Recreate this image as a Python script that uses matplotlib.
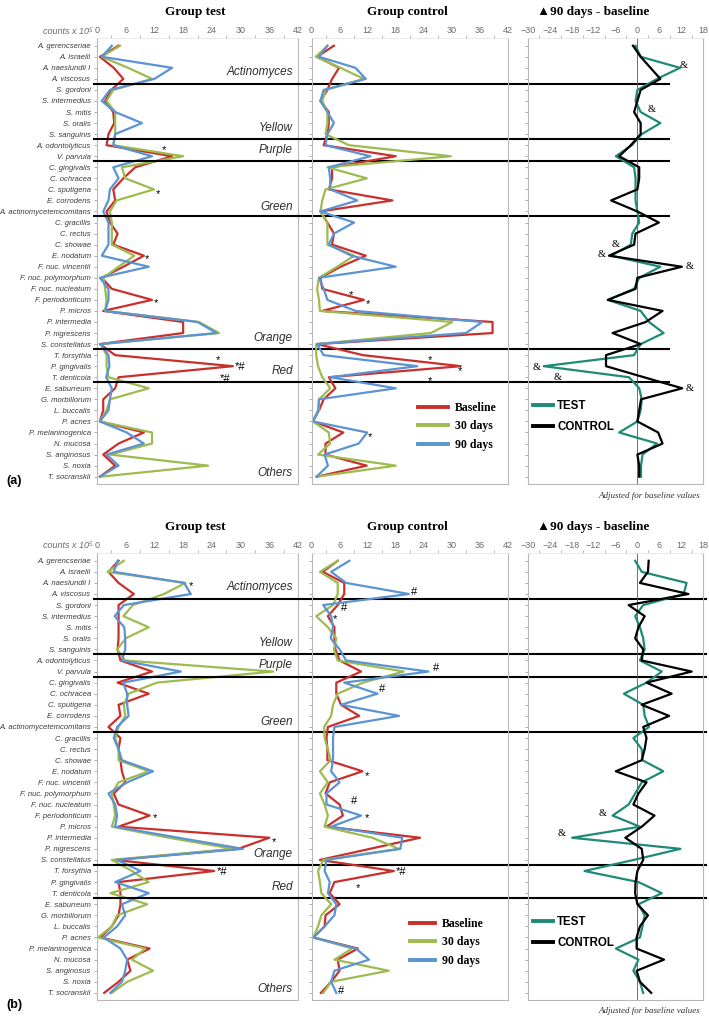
import matplotlib.pyplot as plt
from matplotlib.lines import Line2D

W, H = 709, 1016
fig = plt.figure(figsize=(W / 100, H / 100), dpi=100)

species = ['A. gerencseriae', 'A. israelii', 'A. naeslundii I', 'A. viscosus', 'S. gordoni',
           'S. intermedius', 'S. mitis', 'S. oralis', 'S. sanguinis', 'A. odontolyticus',
           'V. parvula', 'C. gingivalis', 'C. ochracea', 'C. sputigena', 'E. corrodens',
           'A. actinomycetemcomitans', 'C. gracillis', 'C. rectus', 'C. showae', 'E. nodatum',
           'F. nuc. vincentii', 'F. nuc. polymorphum', 'F. nuc. nucleatum', 'F. periodonticum', 'P. micros',
           'P. intermedia', 'P. nigrescens', 'S. constellatus', 'T. forsythia', 'P. gingivalis',
           'T. denticola', 'E. saburreum', 'G. morbillorum', 'L. buccalis', 'P. acnes',
           'P. melaninogenica', 'N. mucosa', 'S. anginosus', 'S. noxia', 'T. socranskii']
rows = list(range(len(species)))

complexes = ['Actinomyces', 'Yellow', 'Purple', 'Green', 'Orange', 'Red', 'Others']
complex_rows = [2.4, 7.4, 9.45, 14.55, 26.45, 29.45, 38.65]
separators = [3.45, 8.45, 10.45, 15.45, 27.45, 30.45]

# (a) counts x 10^5
a_test_base = [4.5, 0.6, 3.5, 5.5, 3.0, 1.7, 3.4, 3.6, 2.4, 2.0,
               15.7, 8.0, 5.5, 3.4, 3.8, 2.0, 2.7, 4.3, 3.4, 9.8,
               5.5, 1.0, 3.1, 11.5, 1.3, 18.0, 18.0, 0.6, 3.8, 28.4,
               4.5, 3.8, 1.3, 1.3, 0.6, 9.8, 4.5, 1.3, 3.8, 0.6]
a_test_30 = [4.8, 1.0, 6.5, 11.5, 3.4, 2.0, 3.8, 3.8, 3.8, 3.4,
             18.0, 5.2, 5.9, 11.9, 4.1, 2.7, 3.1, 3.1, 3.1, 7.8,
             4.5, 1.3, 1.7, 2.0, 1.7, 21.3, 25.5, 0.8, 2.0, 2.0,
             2.4, 10.8, 2.7, 2.0, 0.6, 11.5, 11.5, 2.7, 23.2, 0.8]
a_test_90 = [3.1, 1.0, 15.7, 12.0, 2.7, 1.0, 3.8, 9.4, 3.8, 3.4,
             11.5, 3.4, 4.5, 2.7, 2.4, 1.3, 2.4, 2.4, 2.4, 1.0,
             10.8, 0.6, 2.4, 2.4, 1.7, 21.0, 25.0, 0.8, 2.4, 2.6,
             1.9, 3.1, 2.7, 2.4, 0.6, 6.2, 9.8, 2.0, 4.5, 0.6]
a_ctrl_base = [4.8, 1.2, 5.9, 4.4, 3.4, 1.9, 3.7, 3.7, 3.4, 2.6,
               18.0, 4.4, 4.4, 3.7, 17.3, 1.9, 3.4, 4.8, 4.4, 11.6,
               6.2, 1.9, 2.3, 11.2, 2.3, 38.7, 38.7, 1.2, 11.0, 31.9,
               3.7, 5.1, 2.6, 1.6, 0.3, 6.8, 3.0, 3.0, 11.8, 1.1]
a_ctrl_30 = [3.4, 0.9, 6.2, 11.2, 3.0, 2.3, 3.4, 3.4, 3.0, 8.0,
             29.8, 3.4, 11.8, 3.0, 2.3, 1.9, 3.4, 3.4, 3.4, 9.1,
             5.5, 1.6, 1.2, 1.6, 1.8, 30.1, 25.5, 1.0, 1.0, 1.4,
             2.3, 4.0, 1.6, 1.6, 0.3, 3.7, 4.0, 1.4, 18.0, 1.1]
a_ctrl_90 = [3.4, 1.6, 9.4, 11.6, 2.6, 1.9, 3.4, 4.8, 3.4, 3.0,
             12.6, 3.7, 4.0, 4.0, 9.8, 1.9, 9.1, 4.8, 3.7, 8.5,
             18.0, 1.6, 2.6, 3.4, 9.4, 36.5, 33.0, 1.2, 2.6, 22.6,
             4.0, 18.0, 1.6, 1.4, 0.3, 11.9, 10.1, 2.8, 3.5, 1.1]
a_delta_test = [-0.5, 0.9, 11.7, 5.4, 0.0, -0.5, 0.9, 6.3, 1.2, -1.5,
                -5.9, -0.9, -0.5, -0.5, -0.5, 0.0, 0.5, -1.4, -1.8, -7.2,
                6.3, 0.5, -0.9, -8.1, 0.9, 3.2, 7.2, 0.9, -0.9, -25.7,
                -2.3, 0.5, 1.2, 0.9, 0.0, -5.0, 5.4, 1.4, 1.0, 1.0]
a_delta_ctrl = [-1.2, 0.9, 3.6, 6.3, 0.9, 0.0, -0.9, 0.9, 0.9, -1.8,
                -5.0, 0.5, 0.5, 0.0, -7.2, 0.0, 5.9, -0.5, -0.9, -7.8,
                12.2, 0.0, -0.5, -8.1, 6.9, 2.3, -6.8, 0.9, -8.6, -8.6,
                1.8, 12.3, 1.0, 0.5, 0.0, 5.7, 6.9, 0.0, 0.5, 0.5]

# (b)
b_test_base = [4.5, 2.4, 4.5, 7.7, 4.5, 4.5, 4.5, 4.5, 4.3, 4.9,
               11.5, 4.3, 10.8, 4.5, 4.9, 2.4, 4.9, 4.5, 4.9, 5.2,
               5.9, 3.5, 4.5, 11.0, 4.5, 36.0, 29.5, 3.8, 24.5, 4.5,
               4.9, 4.9, 4.5, 3.1, 0.7, 11.0, 6.3, 7.0, 4.5, 1.5]
b_test_30 = [5.6, 2.2, 18.5, 14.0, 7.5, 5.5, 10.8, 6.0, 4.2, 5.9,
             36.8, 12.5, 6.6, 5.6, 5.9, 4.5, 3.8, 4.5, 4.5, 10.8,
             4.5, 3.1, 3.5, 3.8, 3.1, 15.0, 28.5, 3.1, 7.3, 10.8,
             2.8, 10.5, 4.2, 3.1, 0.2, 10.1, 7.3, 11.7, 6.3, 3.1]
b_test_90 = [4.3, 3.5, 18.2, 19.6, 5.6, 3.7, 5.7, 5.9, 5.9, 5.2,
             17.5, 5.5, 6.3, 6.3, 6.6, 4.2, 3.5, 4.5, 5.2, 11.7,
             6.3, 2.4, 3.8, 4.2, 3.8, 17.0, 30.5, 4.2, 9.1, 3.8,
             10.8, 5.2, 5.9, 4.2, 1.4, 4.9, 6.3, 5.9, 5.2, 2.8]
b_ctrl_base = [5.6, 2.4, 7.0, 7.0, 5.6, 3.5, 4.9, 4.9, 5.1, 6.0,
               10.6, 5.3, 5.3, 6.3, 10.2, 3.5, 3.2, 3.4, 3.4, 10.9,
               3.9, 3.0, 6.0, 6.7, 3.2, 23.2, 12.5, 1.8, 17.6, 4.9,
               3.9, 6.0, 3.0, 2.8, 0.4, 9.9, 5.6, 6.0, 4.2, 2.0]
b_ctrl_30 = [5.6, 1.8, 5.6, 5.6, 4.6, 1.0, 3.5, 5.3, 4.8, 5.6,
             19.7, 11.0, 5.6, 4.6, 4.2, 2.7, 2.8, 3.5, 4.1, 1.8,
             3.5, 1.8, 2.8, 3.5, 2.8, 13.0, 18.7, 2.5, 1.4, 1.8,
             2.1, 4.2, 2.1, 1.4, 0.4, 8.7, 4.9, 16.5, 4.2, 2.5]
b_ctrl_90 = [8.1, 4.2, 7.4, 20.8, 2.5, 4.2, 4.6, 4.1, 6.0, 7.4,
             25.0, 7.0, 14.1, 6.3, 18.7, 4.9, 4.6, 4.6, 4.6, 4.2,
             6.0, 3.2, 3.2, 10.6, 4.2, 19.4, 19.0, 3.2, 2.8, 3.9,
             3.5, 5.3, 4.9, 2.8, 0.4, 9.5, 12.3, 4.9, 4.2, 5.3]
b_delta_test = [-0.6, 1.2, 13.5, 12.7, 1.6, -0.6, 0.7, 1.6, 2.0, 0.7,
                6.7, 2.5, -3.7, 1.6, 2.0, 3.2, -1.1, 1.2, 1.4, 7.1,
                1.2, -0.6, -2.4, -6.8, 0.7, -17.9, 11.8, -1.0, -14.5, 0.3,
                6.7, 0.3, 2.0, 1.4, 0.7, -5.9, 0.3, -1.1, 0.7, 1.6]
b_delta_ctrl = [3.1, 2.9, 0.7, 14.0, -2.4, 2.0, 0.3, -0.6, 1.6, 1.2,
                14.9, 2.5, 9.4, 1.2, 8.7, 1.6, 2.5, 2.0, 1.2, -5.9,
                2.5, 0.3, -1.1, 4.7, 1.2, -3.3, 1.2, 1.6, 0.0, -0.5,
                -0.6, 0.0, 2.9, 0.7, -0.2, -0.2, 7.3, -0.2, 0.7, 3.8]

# significance marks: (x value, row, text)
a_test_notes = [(13.9, 9.2, '*'), (12.8, 13.2, '*'), (10.5, 19.1, '*'), (12.4, 23.0, '*'),
                (25.3, 28.2, '*'), (28.8, 29.1, '*#'), (25.7, 30.2, '*#')]
a_ctrl_notes = [(8.5, 22.3, '*'), (12.1, 23.1, '*'), (25.4, 28.2, '*'), (31.8, 29.2, '*'),
                (25.4, 30.1, '*'), (12.6, 35.2, '*')]
a_delta_notes = [(12.8, 1.8, '&'), (3.8, 5.8, '&'), (-5.9, 18.0, '&'), (-9.7, 18.9, '&'),
                 (14.4, 20.0, '&'), (-27.5, 29.1, '&'), (-21.8, 30.0, '&'), (14.4, 31.0, '&')]
b_test_notes = [(19.6, 2.0, '*'), (12.1, 23.0, '*'), (37.0, 25.1, '*'), (25.1, 28.1, '*#')]
b_ctrl_notes = [(21.9, 2.8, '#'), (6.9, 4.25, '#'), (5.1, 5.0, '*'), (26.7, 9.7, '#'),
                (15.0, 11.6, '#'), (11.8, 19.2, '*'), (9.1, 21.7, '#'), (11.8, 23.0, '*'),
                (18.0, 28.1, '*#'), (9.9, 29.3, '*'), (6.4, 38.8, '#')]
b_delta_notes = [(-9.6, 22.8, '&'), (-20.8, 24.6, '&')]

RED, GREEN, BLUE = '#c9302c', '#9dbb4f', '#5b93d3'
TEAL = '#1f8a78'
GRAY = '#6a6a6a'


def add_ax(left, top, width, height):
    return fig.add_axes([left / W, 1 - (top + height) / H, width / W, height / H])


def style(ax, xlim, step, labels=False):
    ax.set_facecolor('none')
    ax.set_xlim(xlim)
    ax.set_ylim(39.65, -0.7)
    ax.xaxis.set_ticks_position('top')
    ax.set_xticks(range(xlim[0], xlim[1] + 1, step))
    ax.set_xticks([v + step / 2 for v in range(xlim[0], xlim[1], step)], minor=True)
    ax.tick_params(axis='x', which='major', length=0, pad=2.5, labelsize=6.5,
                   labelcolor=GRAY, labelfontfamily='Liberation Sans')
    ax.tick_params(axis='x', which='minor', length=2, color='#b0b0b0', width=0.6)
    ax.set_yticks(rows)
    ax.tick_params(axis='y', length=2.5, width=0.6, color='#a0a0a0', pad=2)
    if labels:
        ax.set_yticklabels(species, fontsize=5.5, style='italic', family='Liberation Sans',
                           color='#3c3c3c')
    else:
        ax.set_yticklabels([])
    ax.spines['top'].set_color('#e2e2e2')
    ax.spines['top'].set_linewidth(0.5)
    for s in ['left', 'right', 'bottom']:
        ax.spines[s].set_color('#b8b8b8')
        ax.spines[s].set_linewidth(0.8)


def notes(ax, items):
    for x, r, t in items:
        if t == '*':
            ax.text(x, r + 0.25, t, ha='center', va='center', fontsize=8, family='Liberation Sans')
        elif t == '&':
            ax.text(x, r, t, ha='center', va='center', fontsize=7.5, family='Liberation Serif')
        else:
            ax.text(x, r, t, ha='left' if len(t) > 1 else 'center', va='center', fontsize=8,
                    family='Liberation Sans')


def panel(top, pitch, test, ctrl, delta, test_notes, ctrl_notes, delta_notes,
          sep_end, title_y, leg1, leg2, tag, tag_y, adj_y):
    h = 40.35 * pitch
    ax1 = add_ax(97, top, 201, h)
    ax2 = add_ax(311.5, top, 196.5, h)
    ax3 = add_ax(528, top, 175, h)
    style(ax1, (0, 42), 6, labels=True)
    style(ax2, (0, 42), 6)
    style(ax3, (-30, 18), 6)

    for ax, data in [(ax1, test), (ax2, ctrl)]:
        for vals, c in zip(data, [RED, GREEN, BLUE]):
            ax.plot(vals, rows, color=c, lw=1.6)
    ax3.axvline(0, color='#555555', lw=0.6)
    ax3.plot(delta[0], rows, color=TEAL, lw=1.6)
    ax3.plot(delta[1], rows, color='black', lw=1.6)

    for y in separators:
        ax1.axhline(y, xmin=-0.015, xmax=(sep_end - 97) / 201, color='black', lw=1.5,
                    clip_on=False, zorder=5)
    for name, r in zip(complexes, complex_rows):
        ax1.text(40.9, r, name, ha='right', va='center', style='italic', fontsize=8.5,
                 family='Liberation Sans', color='#2e2e2e')

    notes(ax1, test_notes)
    notes(ax2, ctrl_notes)
    notes(ax3, delta_notes)

    fig.text(195 / W, 1 - title_y / H, 'Group test', ha='center', va='center', fontsize=9.5,
             fontweight='bold', family='Liberation Serif')
    fig.text(407 / W, 1 - title_y / H, 'Group control', ha='center', va='center', fontsize=9.5,
             fontweight='bold', family='Liberation Serif')
    fig.text(593 / W, 1 - title_y / H, '\u25B290 days - baseline', ha='center', va='center',
             fontsize=9.5, fontweight='bold', family=['Liberation Serif', 'DejaVu Sans'])
    fig.text(93 / W, 1 - (top - 7) / H, 'counts x 10\u2075', ha='right', va='center',
             fontsize=6.5, style='italic', color=GRAY, family=['Liberation Sans', 'DejaVu Sans'])

    h1 = [Line2D([], [], color=c, lw=2.8) for c in [RED, GREEN, BLUE]]
    ax2.legend(h1, ['Baseline', '30 days', '90 days'], loc='upper left',
               bbox_to_anchor=(leg1[0] / W, 1 - leg1[1] / H), bbox_transform=fig.transFigure,
               frameon=False, borderpad=0, borderaxespad=0, handlelength=leg1[2],
               handletextpad=0.6, labelspacing=0.55,
               prop=dict(family='Liberation Serif', weight='bold', size=8.5))
    h2 = [Line2D([], [], color=c, lw=2.8) for c in [TEAL, 'black']]
    ax3.legend(h2, ['TEST', 'CONTROL'], loc='upper left',
               bbox_to_anchor=(leg2[0] / W, 1 - leg2[1] / H), bbox_transform=fig.transFigure,
               frameon=False, borderpad=0, borderaxespad=0, handlelength=1.7,
               handletextpad=0.4, labelspacing=0.75,
               prop=dict(family='Liberation Sans', weight='bold', size=8.3))

    fig.text(6 / W, 1 - tag_y / H, tag, ha='left', va='center', fontsize=9, fontweight='bold',
             family='Liberation Sans')
    fig.text(700 / W, 1 - adj_y / H, 'Adjusted for baseline values', ha='right', va='center',
             fontsize=6.5, style='italic', family='Liberation Serif', color='#333333')


panel(38, 11.05, [a_test_base, a_test_30, a_test_90], [a_ctrl_base, a_ctrl_30, a_ctrl_90],
      [a_delta_test, a_delta_ctrl], a_test_notes, a_ctrl_notes, a_delta_notes,
      669, 12, (418, 402, 2.5), (533, 400, None), '(a)', 481, 496)
panel(553, 11.08, [b_test_base, b_test_30, b_test_90], [b_ctrl_base, b_ctrl_30, b_ctrl_90],
      [b_delta_test, b_delta_ctrl], b_test_notes, b_ctrl_notes, b_delta_notes,
      706, 527, (410, 918, 2.1), (533, 916, None), '(b)', 1005, 1011)

fig.savefig('out.png', dpi=100)
